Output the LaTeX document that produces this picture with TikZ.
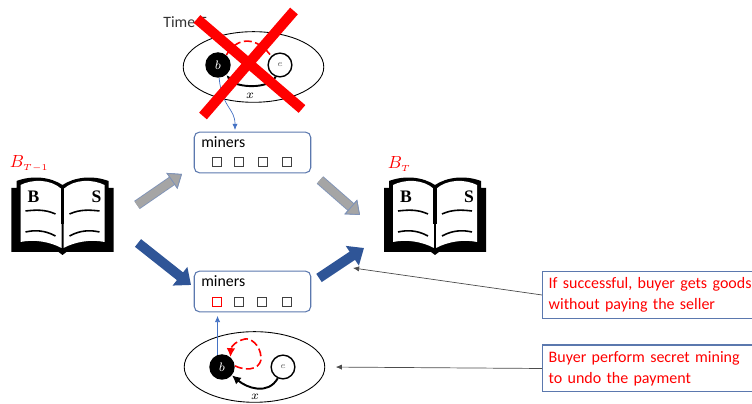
\documentclass[tikz,border=0pt]{standalone}
\usepackage{fontspec}
\setmainfont{Carlito}
\newfontfamily\bookfont{Liberation Serif}
\usetikzlibrary{arrows.meta,shapes.geometric}
\definecolor{greyfill}{HTML}{A5A5A5}
\definecolor{greyedge}{HTML}{7F93B8}
\definecolor{blockblue}{HTML}{2F5597}
\definecolor{thinblue}{HTML}{4472C4}
\definecolor{boxedge}{HTML}{5B78AE}
\tikzset{
  openbook/.pic={
    \fill (-46,34) .. controls (-30,40) and (-12,38) .. (0,30) .. controls (12,38) and (30,40) .. (46,34)
      -- (46,27) -- (51,27) -- (51,-37) -- (4,-37) -- (0,-40) -- (-4,-37) -- (-51,-37) -- (-51,27) -- (-46,27) -- cycle;
    \fill[white] (-42,30) .. controls (-30,36) and (-12,36) .. (-1,26) -- (-1,-33)
      .. controls (-12,-27) and (-28,-24) .. (-42,-27) -- cycle;
    \fill[white] (42,30) .. controls (30,36) and (12,36) .. (1,26) -- (1,-33)
      .. controls (12,-27) and (28,-24) .. (42,-27) -- cycle;
    \draw[line width=2.2pt] (0,28) -- (0,-9);
    \draw[line width=.6pt] (0,-9) -- (0,-34);
    \foreach \sx in {-1,1} {
      \draw[line width=.9pt,xscale=\sx] (7,1) .. controls (18,6) and (28,5) .. (37,4);
      \draw[line width=.9pt,xscale=\sx] (7,-21) .. controls (18,-15) and (28,-15) .. (37,-17);
    }
    \node[font=\bookfont\bfseries] (-b) at (-29,18) {B};
    \node[font=\bookfont\bfseries] (-s) at (34,18) {S};
  },
  minersbox/.style={draw=boxedge,line width=.6pt,rounded corners=3pt,minimum width=66.3pt,minimum height=23.2pt},
  slot/.style={draw=black!75,line width=.5pt,minimum size=5pt,inner sep=0pt},
  chain/.style={draw,ellipse,line width=.5pt,minimum width=80pt,minimum height=40.2pt},
  buyer/.style={circle,fill=black,text=white,minimum size=14.5pt,inner sep=0pt,font=\scriptsize},
  seller/.style={circle,draw,line width=.8pt,fill=white,text=black!60,minimum size=13.5pt,inner sep=0pt,font=\tiny},
  note/.style={draw=boxedge,line width=.6pt,text=red,align=left,anchor=west,text width=125pt,inner sep=3.5pt,font=\fontsize{9.1}{12}\selectfont},
  paid/.style={line width=1.1pt,-{Latex[length=5pt,width=5pt]}},
  secret/.style={red,line width=.9pt,dash pattern=on 4.5pt off 2pt},
  thinarrow/.style={thinblue,line width=.4pt,-{Latex[length=3.5pt,width=3pt]}},
  callout/.style={black!70,line width=.4pt,-{Latex[length=3.5pt,width=3pt]}},
  greyblock/.style={draw=greyfill,line width=4.6pt,-{Triangle[length=7pt,width=11pt,fill=greyfill,color=greyedge,line width=.5pt]},
    preaction={draw=greyedge,line width=5.6pt,-{Triangle[length=7pt,width=11pt,color=greyedge,line width=.5pt]}}},
  blueblock/.style={draw=blockblue,line width=5.6pt,-{Triangle[length=8pt,width=13pt,color=blockblue]}}
}
\begin{document}
\begin{tikzpicture}[x=0.02cm,y=0.02cm]
  \useasboundingbox (0,0) rectangle (752,404);
  % books
  \pic (bookleft) at (62.5,189) {openbook};
  \pic (bookright) at (435,189) {openbook};
  \node[red,font=\fontsize{10}{12}\selectfont,anchor=west,inner sep=0pt] (labelleft) at (9.5,240) {$B_{\scriptscriptstyle T-1}$};
  \node[red,font=\fontsize{10}{12}\selectfont,anchor=west,inner sep=0pt] (labelright) at (387.5,240) {$B_{\scriptscriptstyle T}$};
  % upper chain
  \node[anchor=west,inner sep=0pt,text=black!80,font=\fontsize{9}{11}\selectfont] (timelabel) at (163,382) {Time T};
  \node[chain] (topchain) at (253.5,337) {};
  \node[buyer] (topb) at (218,339) {$b$};
  \node[seller] (tope) at (280,339) {$e$};
  \draw[secret] (topb.50) to[out=60,in=125,looseness=1.3] (tope.135);
  \draw[paid] (tope.-110) to[out=-120,in=-50,looseness=.8] (topb.-50);
  \node[inner sep=0pt,font=\scriptsize] (topx) at (250,308) {$x$};
  % miners
  \node[minersbox] (topminers) at (252.5,251.5) {};
  \node[anchor=west,inner sep=0pt,font=\fontsize{9}{11}\selectfont] (topword) at (201,262) {miners};
  \foreach \i/\px in {1/217,2/239,3/263,4/287}
    \node[slot] (topslot\i) at (\px,242) {};
  \node[minersbox] (lowminers) at (252.5,112.5) {};
  \node[anchor=west,inner sep=0pt,font=\fontsize{9}{11}\selectfont] (lowword) at (201,123) {miners};
  \node[slot,draw=red] (lowslot1) at (217,102) {};
  \foreach \i/\px in {2/239,3/262,4/287}
    \node[slot] (lowslot\i) at (\px,102) {};
  % lower chain
  \node[chain] (lowchain) at (254.5,37) {};
  \node[buyer] (lowb) at (222,37) {$b$};
  \node[seller] (lowe) at (283,37) {$e$};
  \draw[secret,-{Latex[length=5pt,width=5pt]}] (lowb.5) .. controls (250,31) and (262,37) .. (261,47)
    .. controls (260,60) and (250,66) .. (245,65) .. controls (238,64) and (231,58) .. (lowb.50);
  \draw[paid] (lowe.-115) to[out=-120,in=-40,looseness=1.1] (lowb.-40);
  \node[inner sep=0pt,font=\scriptsize] (lowx) at (255,7) {$x$};
  % connectors
  \coordinate (topin) at (235,274);
  \draw[thinarrow] (topb.-85) .. controls (222,296) and (235,296) .. (topin);
  \draw[thinarrow,shorten >=2pt] (lowb.110) -- (lowb.110 |- lowminers.south);
  % block arrows
  \coordinate (ga) at (137,199);
  \coordinate (gb) at (182,230);
  \coordinate (gc) at (320,224);
  \coordinate (gd) at (360,189);
  \coordinate (ba) at (138,161);
  \coordinate (bb) at (191,119);
  \coordinate (bc) at (319,126);
  \coordinate (bd) at (364,156);
  \draw[greyblock] (ga) -- (gb);
  \draw[greyblock] (gc) -- (gd);
  \draw[blueblock] (ba) -- (bb);
  \draw[blueblock] (bc) -- (bd);
  % notes
  \node[note] (successnote) at (542,109) {If successful, buyer gets goods\\without paying the seller};
  \node[note] (miningnote) at (542,35.5) {Buyer perform secret mining\\to undo the payment};
  \coordinate (bookfoot) at (353,136);
  \draw[callout] (successnote.west) -- (bookfoot);
  \draw[callout,shorten >=6pt] (miningnote.west) -- (lowchain.east);
  % cross
  \coordinate (crossa) at (197,385);
  \coordinate (crossb) at (302,295);
  \coordinate (crossc) at (294,393);
  \coordinate (crossd) at (203,288);
  \draw[red,line width=5.8pt] (crossa) -- (crossb);
  \draw[red,line width=5.8pt] (crossc) -- (crossd);
\end{tikzpicture}
\end{document}
